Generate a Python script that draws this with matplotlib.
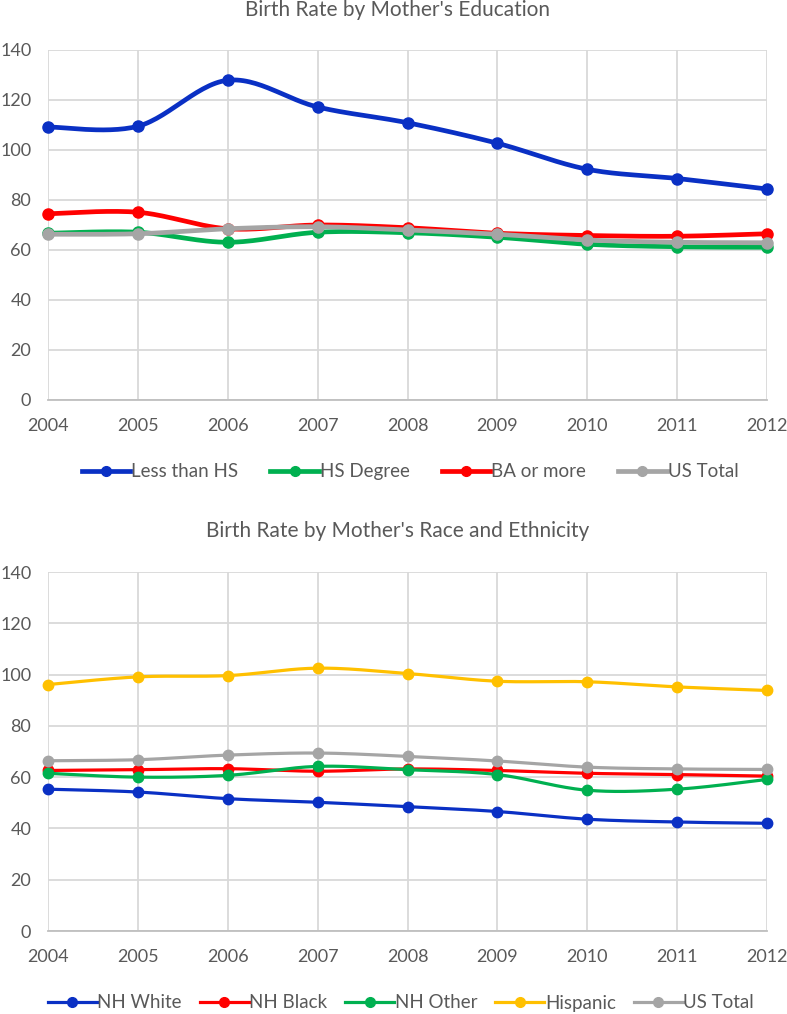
import numpy as np
import matplotlib
matplotlib.use("Agg")
import matplotlib.pyplot as plt
from matplotlib.lines import Line2D

plt.rcParams['font.family'] = ['Lato', 'DejaVu Sans']

years = [2004, 2005, 2006, 2007, 2008, 2009, 2010, 2011, 2012]

# Top chart: by mother's education
less_than_hs = [109.2, 109.5, 127.9, 117.2, 110.9, 102.7, 92.3, 88.6, 84.4]
hs_degree    = [66.7, 67.1, 63.1, 67.1, 66.9, 65.1, 62.3, 61.3, 61.1]
ba_or_more   = [74.5, 75.1, 68.5, 70.0, 68.9, 66.7, 65.8, 65.5, 66.5]
us_total_edu = [66.3, 66.5, 68.5, 69.3, 68.0, 66.3, 64.0, 63.1, 62.9]

# Bottom chart: by mother's race and ethnicity
nh_white  = [55.3, 54.2, 51.6, 50.2, 48.5, 46.6, 43.6, 42.5, 42.0]
nh_black  = [62.6, 62.9, 63.3, 62.3, 63.2, 62.6, 61.5, 61.0, 60.4]
nh_other  = [61.5, 60.0, 60.7, 64.2, 62.9, 61.0, 54.9, 55.3, 59.1]
hispanic  = [96.1, 99.1, 99.6, 102.5, 100.4, 97.4, 97.2, 95.2, 93.8]
us_total_race = [66.4, 66.8, 68.6, 69.4, 68.1, 66.3, 63.9, 63.2, 63.0]

title_top = "Birth Rate by Mother's Education"
title_bottom = "Birth Rate by Mother's Race and Ethnicity"

BLUE = '#0A30C4'
GREEN = '#00B050'
RED = '#FF0000'
GRAY = '#A5A5A5'
YELLOW = '#FFC000'
TXT = '#595959'
GRID = '#D9D9D9'

FS = 13


def smooth(x, y, n=30):
    x = np.asarray(x, float)
    y = np.asarray(y, float)
    P = np.column_stack([x, y])
    Pe = np.vstack([P[0], P, P[-1]])
    out = []
    t = np.linspace(0, 1, n)[:, None]
    for i in range(len(P) - 1):
        p0, p1, p2, p3 = Pe[i], Pe[i + 1], Pe[i + 2], Pe[i + 3]
        c1 = p1 + (p2 - p0) / 6.0
        c2 = p2 - (p3 - p1) / 6.0
        seg = ((1 - t) ** 3) * p1 + 3 * ((1 - t) ** 2) * t * c1 + 3 * (1 - t) * t ** 2 * c2 + t ** 3 * p2
        out.append(seg if i == 0 else seg[1:])
    out = np.vstack(out)
    return out[:, 0], out[:, 1]


def style_axes(ax):
    ax.set_xlim(2004, 2012)
    ax.set_ylim(0, 140)
    ax.set_xticks(years)
    ax.set_yticks(np.arange(0, 141, 20))
    ax.grid(True, color=GRID, linewidth=1.3)
    ax.set_axisbelow(True)
    for s in ['top', 'right', 'left']:
        ax.spines[s].set_visible(False)
    ax.spines['bottom'].set_color('#BFBFBF')
    ax.spines['bottom'].set_linewidth(1.3)
    ax.tick_params(axis='both', length=0, labelsize=FS, colors=TXT)
    ax.tick_params(axis='y', pad=12)
    ax.tick_params(axis='x', pad=13)


W, H = 787, 1014
fig = plt.figure(figsize=(W / 100, H / 100), dpi=100)

ax1 = fig.add_axes([48 / W, 1 - 400 / H, 719 / W, 350 / H])
style_axes(ax1)
series1 = [(less_than_hs, BLUE, 'Less than HS'), (hs_degree, GREEN, 'HS Degree'),
           (ba_or_more, RED, 'BA or more'), (us_total_edu, GRAY, 'US Total')]
handles1 = []
for vals, c, lab in series1:
    sx, sy = smooth(years, vals)
    ax1.plot(sx, sy, color=c, lw=3.4, solid_capstyle='round', clip_on=False)
    ax1.plot(years, vals, 'o', color=c, ms=8, clip_on=False)
    handles1.append(Line2D([], [], color=c, lw=3.4, marker='o', ms=7, label=lab))
fig.text(398 / W, 1 - 10 / H, title_top, ha='center', va='center', fontsize=15, color=TXT)
fig.legend(handles=handles1, loc='center', bbox_to_anchor=(410 / W, 1 - 472 / H), ncol=4,
           frameon=False, fontsize=13.5, labelcolor=TXT, handlelength=2.6, handletextpad=0.05,
           columnspacing=1.7)

ax2 = fig.add_axes([48 / W, 1 - 931 / H, 719 / W, 359 / H])
style_axes(ax2)
series2 = [(nh_white, BLUE, 'NH White'), (nh_black, RED, 'NH Black'), (nh_other, GREEN, 'NH Other'),
           (hispanic, YELLOW, 'Hispanic'), (us_total_race, GRAY, 'US Total')]
handles2 = []
for vals, c, lab in series2:
    sx, sy = smooth(years, vals)
    ax2.plot(sx, sy, color=c, lw=2.3, solid_capstyle='round', clip_on=False)
    ax2.plot(years, vals, 'o', color=c, ms=7.5, clip_on=False)
    handles2.append(Line2D([], [], color=c, lw=2.3, marker='o', ms=7, label=lab))
fig.text(398 / W, 1 - 531 / H, title_bottom, ha='center', va='center', fontsize=15, color=TXT)
fig.legend(handles=handles2, loc='center', bbox_to_anchor=(401 / W, 1 - 1003 / H), ncol=5,
           frameon=False, fontsize=13.5, labelcolor=TXT, handlelength=2.6, handletextpad=0.05,
           columnspacing=0.95)

fig.savefig('out.png', dpi=100, facecolor='white')
